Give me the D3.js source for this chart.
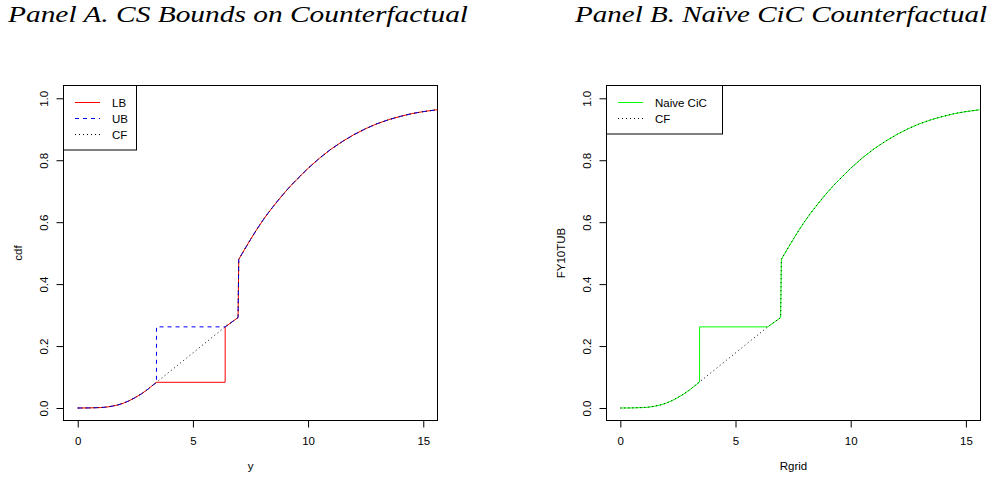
<!DOCTYPE html>
<html><head><meta charset="utf-8">
<script src="https://cdn.jsdelivr.net/npm/d3@7"></script>
<style>body{margin:0;background:#fff} svg{display:block}</style>
</head><body>
<svg id="c" width="992" height="477"></svg>
<script>
// ---- data ----
const lowX = [0, 0.5, 1.0, 1.25, 1.5, 1.75, 2.0, 2.25, 2.5, 2.75, 3.0, 3.25, 3.42];
const lowY = [0, 0.0003, 0.0015, 0.003, 0.006, 0.010, 0.016, 0.024, 0.034, 0.045, 0.058, 0.073, 0.083];
const midX = [6.4, 6.96];
const midY = [0.262, 0.292];
const upX = [6.99, 7.25, 7.5, 7.75, 8.0, 8.25, 8.5, 8.75, 9.0, 9.25, 9.5, 10.0, 10.5, 11.0,
             11.5, 12.0, 12.5, 13.0, 13.5, 14.0, 14.5, 15.0, 15.6];
const upY = [0.480, 0.513, 0.544, 0.574, 0.602, 0.628, 0.652, 0.675, 0.697, 0.718, 0.737, 0.774, 0.807, 0.836,
             0.861, 0.883, 0.902, 0.918, 0.931, 0.9415, 0.9505, 0.957, 0.963];

// CF: continuous counterfactual
const cfX = [...lowX, ...midX, ...upX];
const cfY = [...lowY, ...midY, ...upY];
// LB: flat at 0.083 from 3.42 to 6.4, then up
const lbX = [...lowX, 6.4, ...midX, ...upX];
const lbY = [...lowY, 0.083, ...midY, ...upY];
// UB: up at 3.42, then flat at 0.262
const ubX = [...lowX, 3.42, ...midX, ...upX];
const ubY = [...lowY, 0.262, ...midY, ...upY];
// Naive CiC (Panel B)
const naiveX = [...lowX, 3.44, 3.44, ...midX, ...upX];
const naiveY = [...lowY, 0.084, 0.262, ...midY, ...upY];

const xTicks = [0, 5, 10, 15];
const yTicks = [0.0, 0.2, 0.4, 0.6, 0.8, 1.0];
const titleA = "Panel A. CS Bounds on Counterfactual";
const titleB = "Panel B. Naïve CiC Counterfactual";
const legendA = ["LB", "UB", "CF"];
const legendB = ["Naive CiC", "CF"];

// ---- drawing ----
const svg = d3.select('#c');
svg.append('rect').attr('width', 992).attr('height', 477).attr('fill', '#fff');
const sans = "'Liberation Sans', Arial, Helvetica, sans-serif";
const zip = (xs, ys) => xs.map((v, i) => [v, ys[i]]);

function title(text, x0, x1, base) {
  const t = svg.append('text').attr('x', x0).attr('y', base)
    .attr('font-family', "'Liberation Serif', 'Times New Roman', serif").attr('font-style', 'italic')
    .attr('font-size', 23.5).attr('fill', '#000').text(text);
  t.attr('textLength', x1 - x0).attr('lengthAdjust', 'spacingAndGlyphs');
}
title(titleA, 8, 468, 22);
title(titleB, 575, 987, 21.5);

function panel(o) {
  const x = d3.scaleLinear().domain([-0.6, 15.6]).range([o.left, o.right]);
  const y = d3.scaleLinear().domain([-0.04, 1.04]).range([420.4, 85.9]);
  const g = svg.append('g');
  const cid = 'clip' + o.id;
  svg.append('clipPath').attr('id', cid).append('rect')
    .attr('x', o.boxL).attr('y', 85.5).attr('width', o.boxR - o.boxL).attr('height', 335);
  const lg = g.append('g').attr('clip-path', `url(#${cid})`);
  const line = d3.line().x(d => x(d[0])).y(d => y(d[1]));
  o.series.forEach(s => {
    lg.append('path').attr('d', line(zip(s.xs, s.ys))).attr('fill', 'none')
      .attr('stroke', s.color).attr('stroke-width', 1)
      .attr('stroke-dasharray', s.dash || null);
  });
  // box
  g.append('rect').attr('x', o.boxL).attr('y', 85.5).attr('width', o.boxR - o.boxL).attr('height', 335)
    .attr('fill', 'none').attr('stroke', '#000').attr('stroke-width', 1);
  // x axis
  const xa = g.append('g').attr('transform', 'translate(0,420.5)')
    .call(d3.axisBottom(x).tickValues(xTicks).tickSize(7).tickPadding(9.5).tickFormat(d3.format('d')));
  xa.select('.domain').remove();
  xa.selectAll('text').attr('font-family', sans).attr('font-size', 11.5).attr('fill', '#000');
  xa.selectAll('line').attr('stroke', '#000');
  g.append('line').attr('x1', x(0)).attr('x2', x(15)).attr('y1', 420.5).attr('y2', 420.5).attr('stroke', '#000');
  // y axis
  const ya = g.append('g').attr('transform', `translate(${o.boxL},0)`)
    .call(d3.axisLeft(y).tickValues(yTicks).tickSize(7).tickFormat(d3.format('.1f')));
  ya.select('.domain').remove();
  ya.selectAll('line').attr('stroke', '#000');
  ya.selectAll('text').attr('font-family', sans).attr('font-size', 11.5).attr('fill', '#000')
    .attr('transform', 'rotate(-90)').attr('x', 0).attr('y', -15.5).attr('dy', 0)
    .attr('text-anchor', 'middle');
  // axis titles
  g.append('text').attr('x', (o.boxL + o.boxR) / 2).attr('y', 469.5).attr('text-anchor', 'middle')
    .attr('font-family', sans).attr('font-size', 11.5).attr('fill', '#000').text(o.xlab);
  g.append('text').attr('transform', `translate(${o.boxL - 41.5},253) rotate(-90)`)
    .attr('text-anchor', 'middle').attr('font-family', sans).attr('font-size', 11.5)
    .attr('fill', '#000').text(o.ylab);
  // legend
  const lgH = 16 * o.legend.length + 16.5;
  g.append('rect').attr('x', o.boxL).attr('y', 85.5).attr('width', o.legW).attr('height', lgH)
    .attr('fill', '#fff').attr('stroke', '#000').attr('stroke-width', 1);
  o.legend.forEach((name, i) => {
    const s = o.legSeries[i];
    const yy = 102.5 + i * 16;
    g.append('line').attr('x1', o.boxL + 11.5).attr('x2', o.boxL + 36.5).attr('y1', yy).attr('y2', yy)
      .attr('stroke', s.color).attr('stroke-width', 1).attr('stroke-dasharray', s.dash || null);
    g.append('text').attr('x', o.boxL + 48.5).attr('y', yy).attr('dy', '0.36em')
      .attr('font-family', sans).attr('font-size', 11.5).attr('fill', '#000').text(name);
  });
}

const lbS = {xs: lbX, ys: lbY, color: '#ff0000'};
const ubS = {xs: ubX, ys: ubY, color: '#0000ff', dash: '4,4'};
const cfS = {xs: cfX, ys: cfY, color: '#000000', dash: '1,3'};
const nvS = {xs: naiveX, ys: naiveY, color: '#00ff00'};

panel({id: 'A', left: 63.9, right: 437.1, boxL: 63.5, boxR: 437.5,
  series: [lbS, ubS, cfS], legend: legendA, legSeries: [lbS, ubS, cfS], legW: 73,
  xlab: 'y', ylab: 'cdf'});
panel({id: 'B', left: 606.5, right: 979.7, boxL: 606.5, boxR: 980.5,
  series: [nvS, cfS], legend: legendB, legSeries: [nvS, cfS], legW: 116,
  xlab: 'Rgrid', ylab: 'FY10TUB'});
</script>
</body></html>
